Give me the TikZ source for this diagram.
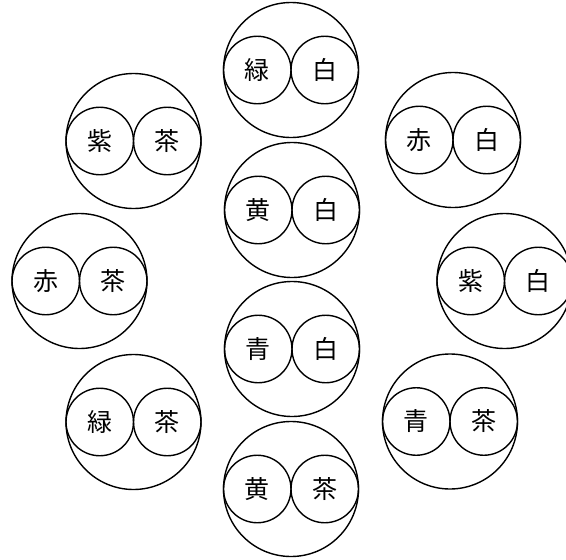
\documentclass[tikz,border=0pt]{standalone}
\usepackage{fontspec}
\newfontfamily\cjk{Noto Sans CJK JP}
\usetikzlibrary{calc}
\tikzset{
  big/.style={circle,draw,line width=1.4pt,minimum size=135pt,inner sep=0pt},
  small/.style={circle,draw,line width=1.4pt,minimum size=67.5pt,inner sep=0pt,
    font=\cjk\fontsize{25}{25}\selectfont},
}
\newcommand{\pairc}[5]{%
  \node[big] (#1) at (#2,#3) {};
  \node[small] (#1l) at ($(#1)+(-33.75,0)$) {\raisebox{-5pt}{#4}};
  \node[small] (#1r) at ($(#1)+(33.75,0)$) {\raisebox{-5pt}{#5}};
}
\begin{document}
\begin{tikzpicture}[x=1pt,y=-1pt]
\useasboundingbox (0,0) rectangle (566,560);
\pairc{a}{291}{70}{緑}{白}
\pairc{b}{292}{210}{黄}{白}
\pairc{c}{292}{349}{青}{白}
\pairc{d}{291}{489}{黄}{茶}
\pairc{e}{133.5}{141}{紫}{茶}
\pairc{f}{79.5}{281}{赤}{茶}
\pairc{g}{133.5}{422}{緑}{茶}
\pairc{h}{453}{140}{赤}{白}
\pairc{i}{504.5}{281}{紫}{白}
\pairc{j}{450}{421.5}{青}{茶}
\end{tikzpicture}
\end{document}
